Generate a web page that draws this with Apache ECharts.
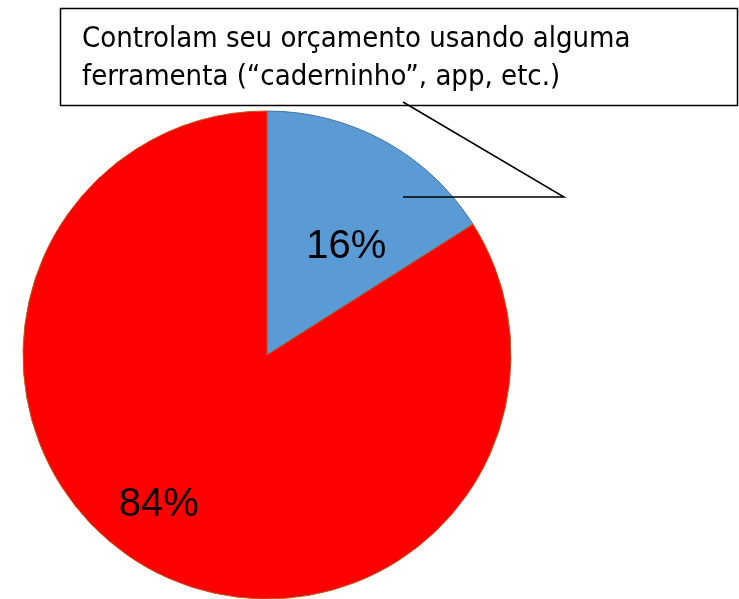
<!DOCTYPE html>
<html>
<head>
<meta charset="utf-8">
<script src="https://cdn.jsdelivr.net/npm/echarts@6/dist/echarts.min.js"></script>
<style>
	html, body { margin: 0; padding: 0; background: #fff; }
	#chart { width: 739px; height: 599px; }
</style>
</head>
<body>
<div id="chart"></div>
<script>
// data
const categories = ['Controlam seu orçamento', 'Não controlam']
const values = [16, 84]
const sliceColors = ['#5B9BD5', '#FF0000']
const sliceBorders = ['#41719C', '#B85F1E']
const calloutLines = ['Controlam seu orçamento usando alguma', 'ferramenta (“caderninho”, app, etc.)']

// label nudges so the percentages sit where the original puts them
const labelShift = [[19, 2], [-48, 40]]

const chart = echarts.init(document.getElementById('chart'))

const option = {
	animation: false,
	backgroundColor: '#fff',
	series: [
		{
			type: 'pie',
			center: [267, 355],
			radius: [0, 244],
			startAngle: 90,
			clockwise: true,
			silent: true,
			data: categories.map((name, i) => ({
				name: name,
				value: values[i],
				itemStyle: {
					color: sliceColors[i],
					borderColor: sliceBorders[i],
					borderWidth: 1
				}
			})),
			label: {
				show: true,
				position: 'inside',
				formatter: '{c}%',
				color: '#000',
				fontSize: 40,
				fontFamily: 'Liberation Sans, Arial, sans-serif'
			},
			labelLine: { show: false },
			labelLayout: (params) => {
				const s = labelShift[params.dataIndex]
				return { dx: s[0], dy: s[1] }
			}
		}
	],
	graphic: [
		{
			type: 'rect',
			shape: { x: 60.5, y: 8.5, width: 677, height: 97 },
			style: { fill: '#fff', stroke: '#000', lineWidth: 1.5 },
			z: 10
		},
		{
			type: 'polyline',
			shape: { points: [[403, 102], [564, 197], [403, 197]] },
			style: { fill: null, stroke: '#000', lineWidth: 1.5 },
			z: 11
		},
		{
			type: 'text',
			left: 82,
			top: 20,
			style: {
				text: calloutLines.join('\n'),
				fontSize: 29,
				lineHeight: 38,
				fill: '#000',
				fontFamily: 'Liberation Sans Narrow, DejaVu Sans Condensed, Liberation Sans, sans-serif'
			},
			z: 12
		}
	]
}

chart.setOption(option)
</script>
</body>
</html>
